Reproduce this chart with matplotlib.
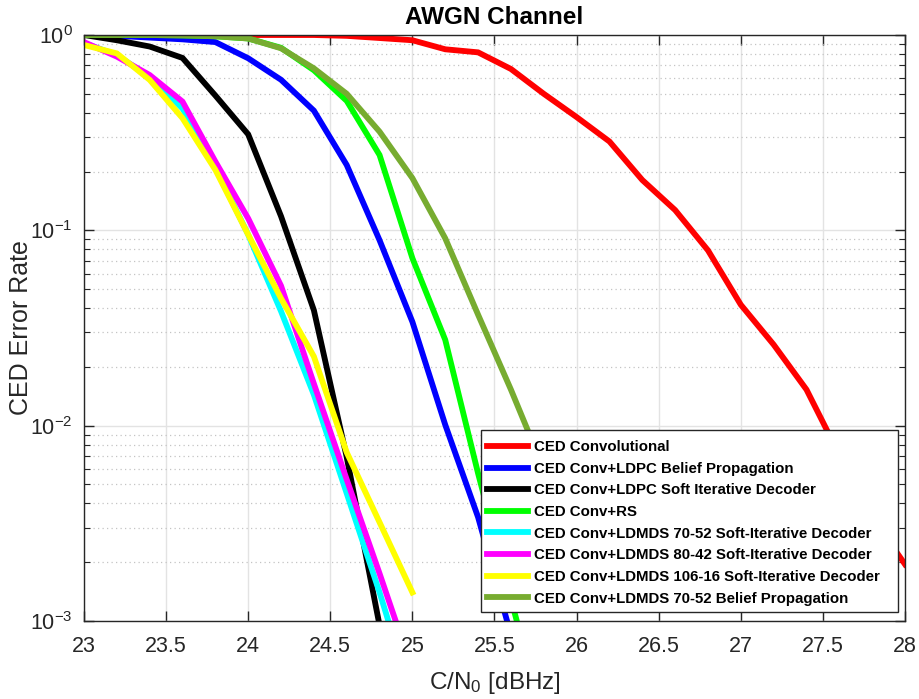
import matplotlib
matplotlib.use("Agg")
import matplotlib.pyplot as plt
from matplotlib.patches import Rectangle
from matplotlib.ticker import LogLocator, FixedLocator, NullFormatter, LogFormatterMathtext

plt.rcParams['font.family'] = ['Liberation Sans', 'DejaVu Sans']
plt.rcParams['mathtext.fontset'] = 'custom'
plt.rcParams['mathtext.rm'] = 'Liberation Sans'
plt.rcParams['mathtext.it'] = 'Liberation Sans'
plt.rcParams['mathtext.default'] = 'regular'

# ---------------- data ----------------
cn0_red = [23.0, 23.2, 23.4, 23.6, 23.8, 24.0, 24.2, 24.4, 24.6, 24.8, 25.0, 25.2, 25.4,
           25.6, 25.8, 26.0, 26.2, 26.4, 26.6, 26.8, 27.0, 27.2, 27.4, 27.6, 27.8, 28.0]
ser_conv = [1.0, 1.0, 1.0, 1.0, 1.0, 1.0, 1.0, 1.0, 0.99, 0.965, 0.94, 0.845, 0.815,
            0.67, 0.50, 0.38, 0.285, 0.181, 0.127, 0.079, 0.0416, 0.026, 0.0153, 0.0071, 0.0034, 0.00195]

cn0_blue = [23.0, 23.2, 23.4, 23.6, 23.8, 24.0, 24.2, 24.4, 24.6, 24.8, 25.0, 25.2, 25.4, 25.6]
ser_ldpc_bp = [1.0, 0.99, 0.97, 0.95, 0.92, 0.76, 0.59, 0.41, 0.216, 0.089, 0.034, 0.0101, 0.0034, 0.00085]

cn0_black = [23.0, 23.2, 23.4, 23.6, 23.8, 24.0, 24.2, 24.4, 24.6, 24.8]
ser_ldpc_si = [1.0, 0.94, 0.873, 0.763, 0.49, 0.31, 0.118, 0.039, 0.0069, 0.00095]

cn0_green = [23.0, 23.2, 23.4, 23.6, 23.8, 24.0, 24.2, 24.4, 24.6, 24.8, 25.0, 25.2, 25.4, 25.6, 25.8]
ser_rs = [1.0, 1.0, 1.0, 0.995, 0.985, 0.96, 0.86, 0.66, 0.46, 0.243, 0.072, 0.0275, 0.0057, 0.0013, 0.0003]

cn0_cyan = [23.0, 23.2, 23.4, 23.6, 23.8, 24.0, 24.2, 24.4, 24.6, 24.8, 25.0]
ser_ldmds_70_52_si = [0.91, 0.79, 0.61, 0.42, 0.21, 0.095, 0.0385, 0.0144, 0.0045, 0.0014, 0.0004]

cn0_magenta = [23.0, 23.2, 23.4, 23.6, 23.8, 24.0, 24.2, 24.4, 24.6, 24.8, 25.0]
ser_ldmds_80_42_si = [0.92, 0.775, 0.624, 0.456, 0.225, 0.115, 0.052, 0.0164, 0.0053, 0.00175, 0.00056]

cn0_yellow = [23.0, 23.2, 23.4, 23.6, 23.8, 24.0, 24.2, 24.4, 24.6, 24.8, 25.0]
ser_ldmds_106_16_si = [0.889, 0.805, 0.589, 0.375, 0.204, 0.095, 0.0448, 0.0226, 0.0073, 0.0032, 0.0014]

cn0_olive = [23.0, 23.2, 23.4, 23.6, 23.8, 24.0, 24.2, 24.4, 24.6, 24.8, 25.0, 25.2, 25.4, 25.6, 25.8, 26.0]
ser_ldmds_70_52_bp = [1.0, 1.0, 1.0, 0.995, 0.985, 0.96, 0.855, 0.675, 0.50, 0.32, 0.185, 0.091, 0.037, 0.0153, 0.006, 0.0023]

labels = ['CED Convolutional',
          'CED Conv+LDPC Belief Propagation',
          'CED Conv+LDPC Soft Iterative Decoder',
          'CED Conv+RS',
          'CED Conv+LDMDS 70-52 Soft-Iterative Decoder',
          'CED Conv+LDMDS 80-42 Soft-Iterative Decoder',
          'CED Conv+LDMDS 106-16 Soft-Iterative Decoder',
          'CED Conv+LDMDS 70-52 Belief Propagation']
colors = ['#FF0000', '#0000FF', '#000000', '#00FF00', '#00FFFF', '#FF00FF', '#FFFF00', '#77AC30']

x_ticks = [23, 23.5, 24, 24.5, 25, 25.5, 26, 26.5, 27, 27.5, 28]
x_tick_labels = ['23', '23.5', '24', '24.5', '25', '25.5', '26', '26.5', '27', '27.5', '28']

series = [(cn0_red, ser_conv), (cn0_blue, ser_ldpc_bp), (cn0_black, ser_ldpc_si),
          (cn0_green, ser_rs), (cn0_cyan, ser_ldmds_70_52_si), (cn0_magenta, ser_ldmds_80_42_si),
          (cn0_yellow, ser_ldmds_106_16_si), (cn0_olive, ser_ldmds_70_52_bp)]

# ---------------- figure ----------------
W, H = 920, 699
fig = plt.figure(figsize=(W / 100, H / 100), dpi=100)
ax = fig.add_axes([84 / W, 78 / H, 821 / W, 586 / H])

for (xv, yv), c, lab in zip(series, colors, labels):
    ax.plot(xv, yv, color=c, lw=4.2, label=lab, solid_joinstyle='miter')

ax.set_yscale('log')
ax.set_xlim(23, 28)
ax.set_ylim(1e-3, 1)

ax.xaxis.set_major_locator(FixedLocator(x_ticks))
ax.set_xticklabels(x_tick_labels)
ax.yaxis.set_major_locator(LogLocator(base=10, numticks=10))
ax.yaxis.set_major_formatter(LogFormatterMathtext())
ax.yaxis.set_minor_locator(LogLocator(base=10, subs=range(2, 10), numticks=20))
ax.yaxis.set_minor_formatter(NullFormatter())

tc = '#262626'
ax.tick_params(which='both', direction='in', top=True, right=True, colors=tc,
               labelcolor=tc)
ax.tick_params(which='major', length=7, width=1, labelsize=15.5)
ax.tick_params(which='minor', length=4, width=0.8)
ax.tick_params(axis='x', pad=11)
ax.tick_params(axis='y', pad=8)
for s in ax.spines.values():
    s.set_color(tc)
    s.set_linewidth(1.0)

ax.grid(True, which='major', color='#E3E3E3', lw=1.0, ls='-')
ax.grid(True, which='minor', axis='y', color='#C4C4C4', lw=0.9, ls=(0, (1, 2.6)))
ax.set_axisbelow(True)

ax.set_title('AWGN Channel', fontsize=17.5, fontweight='bold', pad=8, color='black')
ax.set_xlabel('C/N$_0$ [dBHz]', fontsize=17.5, color=tc, labelpad=9)
ax.set_ylabel('CED Error Rate', fontsize=18, color=tc, labelpad=-2)

# legend frame (MATLAB style, wider right padding)
frame = Rectangle((481 / W, 1 - 612 / H), 417 / W, 182 / H, transform=fig.transFigure,
                  facecolor='white', edgecolor=tc, lw=1.0, zorder=4.9, clip_on=False)
ax.add_patch(frame)

leg = ax.legend(loc='center left', bbox_to_anchor=(486.7 / W, 1 - 522.9 / H),
                bbox_transform=fig.transFigure, frameon=False, borderaxespad=0,
                borderpad=0, prop={'weight': 'bold', 'size': 10.8}, handlelength=2.77,
                labelspacing=0.51, handletextpad=0.4)
leg.set_zorder(5)
for t in leg.get_texts():
    t.set_color('black')

fig.savefig('out.png', dpi=100)
